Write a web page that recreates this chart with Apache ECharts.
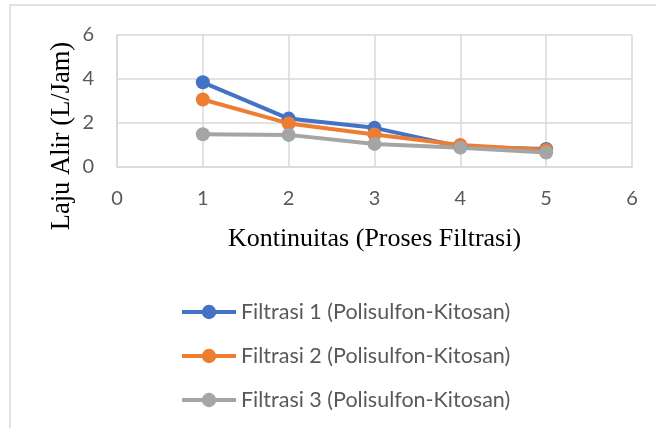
<!DOCTYPE html>
<html>
<head>
<meta charset="utf-8">
<script src="https://cdn.jsdelivr.net/npm/echarts@6/dist/echarts.min.js"></script>
<style>
  html, body { margin: 0; padding: 0; background: #fff; }
  #chart { width: 656px; height: 428px; }
</style>
</head>
<body>
<div id="chart"></div>
<script>
// Flow rate per filtration run
const runs = [1, 2, 3, 4, 5];
const filtrasi1 = [3.85, 2.2, 1.78, 0.92, 0.82];
const filtrasi2 = [3.07, 1.98, 1.48, 1.0, 0.77];
const filtrasi3 = [1.49, 1.46, 1.05, 0.88, 0.66];
const seriesNames = [
  'Filtrasi 1 (Polisulfon-Kitosan)',
  'Filtrasi 2 (Polisulfon-Kitosan)',
  'Filtrasi 3 (Polisulfon-Kitosan)'
];
const yTitle = 'Laju Alir (L/Jam)';
const xTitle = 'Kontinuitas (Proses Filtrasi)';
const colors = ['#4472C4', '#ED7D31', '#A5A5A5'];

const toPairs = vals => runs.map((x, i) => [x, vals[i]]);
const gridColor = '#d9d9d9';
const sansFont = 'Lato, "Open Sans", sans-serif';
const serifFont = '"Liberation Serif", "Times New Roman", serif';
const tickFont = { color: '#595959', fontSize: 20, fontFamily: sansFont };

const chart = echarts.init(document.getElementById('chart'), null, { renderer: 'canvas' });

const makeSeries = (name, vals, color) => ({
  name,
  type: 'line',
  data: toPairs(vals),
  symbol: 'circle',
  symbolSize: 14,
  lineStyle: { width: 4, color },
  itemStyle: { color },
  emphasis: { disabled: true },
  animation: false
});

chart.setOption({
  backgroundColor: '#fff',
  animation: false,
  graphic: [
    {
      // chart-area frame
      type: 'rect',
      shape: { x: 10, y: 5, width: 700, height: 500 },
      style: { fill: 'none', stroke: gridColor, lineWidth: 1.5 },
      silent: true,
      z: -1
    },
    {
      // vertical axis title, set lower than the plot centre
      type: 'text',
      x: 62,
      y: 136,
      rotation: Math.PI / 2,
      style: {
        text: yTitle,
        fill: '#000',
        font: '26.5px ' + serifFont,
        align: 'center',
        verticalAlign: 'middle'
      },
      silent: true
    }
  ],
  grid: { left: 117, right: 24, top: 35, bottom: 261, containLabel: false },
  xAxis: {
    type: 'value',
    min: 0, max: 6, interval: 1,
    name: xTitle,
    nameLocation: 'middle',
    nameGap: 59,
    nameTextStyle: { color: '#000', fontSize: 26, fontFamily: serifFont },
    axisLine: { show: true, lineStyle: { color: gridColor, width: 1.5 } },
    axisTick: { show: false },
    axisLabel: Object.assign({ margin: 22 }, tickFont),
    splitLine: { show: true, lineStyle: { color: gridColor, width: 1.5 } }
  },
  yAxis: {
    type: 'value',
    min: 0, max: 6, interval: 2,
    axisLine: { show: true, lineStyle: { color: gridColor, width: 1.5 } },
    axisTick: { show: false },
    axisLabel: Object.assign({ margin: 23 }, tickFont),
    splitLine: { show: true, lineStyle: { color: gridColor, width: 1.5 } }
  },
  legend: {
    orient: 'vertical',
    left: 175,
    top: 296,
    itemWidth: 54,
    itemHeight: 18,
    itemGap: 22,
    lineStyle: { width: 4 },
    textStyle: { color: '#595959', fontSize: 21.5, fontFamily: sansFont },
    data: seriesNames
  },
  series: [
    makeSeries(seriesNames[0], filtrasi1, colors[0]),
    makeSeries(seriesNames[1], filtrasi2, colors[1]),
    makeSeries(seriesNames[2], filtrasi3, colors[2])
  ]
});
</script>
</body>
</html>
